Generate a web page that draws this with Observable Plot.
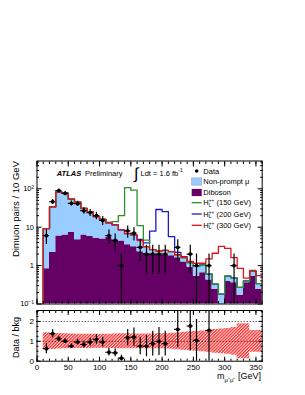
<!DOCTYPE html>
<html>
<head>
<meta charset="utf-8">
<script src="https://cdn.jsdelivr.net/npm/d3@7"></script>
<script src="https://cdn.jsdelivr.net/npm/@observablehq/plot@0.6"></script>
<style>
html,body{margin:0;padding:0;background:#fff;}
#wrap{position:relative;width:305px;height:395px;overflow:hidden;background:#fff;font-family:"Liberation Sans",Arial,Helvetica,sans-serif;}
#main,#ratio,#ann{position:absolute;left:0;}
#main{top:150px;}
#ratio{top:306px;}
#ann{top:0;pointer-events:none;}
</style>
</head>
<body>
<div id="wrap"><div id="main"></div><div id="ratio"></div><svg id="ann" width="305" height="395"></svg></div>
<script>
// ---------- data ----------
const binLow = [10,20,30,40,50,60,70,80,90,100,110,120,130,140,150,160,170,180,190,200,210,220,230,240,250,260,270,280,290,300,310,320,330,340,350];
const binWidth = 10;
const nonPrompt = [8.4,31.8,76,71,46.6,40.3,24.7,19.8,13.9,11.1,7.5,6.8,4.1,3.3,3.2,2.2,1.0,0.6,0.4,0.6,0.5,0.3,0.35,0.3,0.42,0.4,0.18,0.09,0.09,0.14,0.12,0.1,0.04,0.19,0.1];
const diboson   = [0.83,2.2,5.9,6.3,7.4,4.7,6.3,5.7,5.1,4.9,5.5,4.7,4.4,3.5,3.1,2.3,2.1,2.0,2.0,1.9,1.8,1.6,1.25,0.9,0.53,0.65,0.42,0.24,0.09,0.39,0.36,0.17,0.36,0.53,0.24];
const dataCounts = [6,46,90,76,42,41,27,24,20,15,6,4.5,1,8,7,3,2,2,2,2,null,3,null,2,1,null,1,null,null,null,1,null,null,null,null];
const sig150 = [0,0,0,0,0,0,0,0,0,0.3,0.6,2.4,11.5,101,86,6.5,1.5,0,0,0,0,0,0,0,0,0,0,0,0,0,0,0,0,0,0];
const sig200 = [0,0,0,0,0,0,0,0,0,0,0,0,0,0,0,0.3,0.8,5.3,26.5,23,3.4,0.3,0.1,0,0,0,0,0,0,0,0,0,0,0,0];
const sig300 = [0,0,0,0,0,0,0,0,0,0,0,0,0,0,0,0,0,0,0,0,0,0.02,0.05,0.08,0.2,0.1,0.9,1.77,2.97,2.27,1.14,0.58,0.07,0.03,0.21];
const ratioVals = [0.63,1.38,1.13,1.01,0.76,0.96,0.84,0.96,1.10,0.96,0.45,0.42,0.15,1.18,1.21,0.76,0.76,0.88,0.99,0.88,null,1.60,null,1.77,1.05,null,1.55,null,null,null,null,null,null,null,null];
const bandHalf = [0.43,0.41,0.39,0.38,0.37,0.36,0.36,0.36,0.35,0.35,0.36,0.37,0.38,0.38,0.37,0.37,0.37,0.37,0.38,0.38,0.40,0.42,0.45,0.48,0.50,0.52,0.55,0.60,0.62,0.65,0.70,0.88,0.88,0.55,0.55];

const xMajor = [0,50,100,150,200,250,300,350];
const yMajorMain = [0.1,1,10,100];
const yLabelsMain = ["10\u207B\u00B9","1","10","10\u00B2"];
const ratioMajor = [0,1,2];
const ratioLabels = ["0","1","2"];
const ratioRefLines = [1,2];

const legendLabels = ["Data","Non-prompt \u03BC","Diboson","(150 GeV)","(200 GeV)","(300 GeV)"];
const yTitleMain = "Dimuon pairs / 10 GeV";
const yTitleRatio = "Data / bkg";

// ---------- style ----------
const FONT = "'Liberation Sans', Arial, Helvetica, sans-serif";
const cPurple = "#650065", cBlue = "#99ccff", cBlueEdge = "#8c9ee0";
const cGreen = "#2f8f2f", cSig200 = "#1a1ac8", cRed = "#dd1515";
const yFloor = 0.1, yCeil = 530;

// ---------- derived rows ----------
const bins = binLow.map((lo,i)=>({lo, hi:lo+binWidth, mid:lo+binWidth/2,
  dib:diboson[i], bkg:diboson[i]+nonPrompt[i], data:dataCounts[i], ratio:ratioVals[i], band:bandHalf[i],
  s150:diboson[i]+nonPrompt[i]+sig150[i], s200:diboson[i]+nonPrompt[i]+sig200[i], s300:diboson[i]+nonPrompt[i]+sig300[i]}));
const stepRows = bins.flatMap(b=>[{...b, x:b.lo},{...b, x:b.hi}]);
function outline(key){
  const first = bins[0], last = bins[bins.length-1];
  return [{x:first.lo, y:yFloor}, ...bins.flatMap(b=>[{x:b.lo,y:b[key]},{x:b.hi,y:b[key]}]), {x:last.hi, y:yFloor}];
}
const dataRows = bins.filter(b=>b.data!=null);
const ratioRows = bins.filter(b=>b.ratio!=null);

const yMinorMain = yMajorMain.flatMap(d=>d3.range(2,10).map(k=>+(k*d).toPrecision(3))).filter(v=>v<=yCeil);
const xMinor = d3.range(0,361,10);
const ratioMinor = d3.range(0,2.56,0.25);
const yLabelMap = new Map(yMajorMain.map((d,i)=>[d,yLabelsMain[i]]));
const ratioLabelMap = new Map(ratioMajor.map((d,i)=>[d,ratioLabels[i]]));
const blank = ()=>"";

function inwardX(ticks, len){
  return [
    Plot.axisX({anchor:"bottom", ticks, tickSize:len, dy:-len, tickFormat:blank, label:null}),
    Plot.axisX({anchor:"top", ticks, tickSize:len, dy:len, tickFormat:blank, label:null})
  ];
}
function inwardY(ticks, len){
  return [
    Plot.axisY({anchor:"left", ticks, tickSize:len, dx:len, tickFormat:blank, label:null}),
    Plot.axisY({anchor:"right", ticks, tickSize:len, dx:-len, tickFormat:blank, label:null})
  ];
}

// ---------- main panel ----------
const main = Plot.plot({
  width:305, height:156,
  marginLeft:36.5, marginRight:43.3, marginTop:10.5, marginBottom:2.5,
  x:{domain:[0,360]},
  y:{type:"log", domain:[yFloor,yCeil]},
  style:{fontFamily:FONT, fontSize:"7.5px", color:"black", background:"transparent", overflow:"visible"},
  marks:[
    Plot.areaY(stepRows, {x:"x", y1:yFloor, y2:"dib", fill:cPurple, clip:true}),
    Plot.areaY(stepRows, {x:"x", y1:"dib", y2:"bkg", fill:cBlue, clip:true}),
    Plot.line(outline("bkg"), {x:"x", y:"y", stroke:cBlueEdge, strokeWidth:0.9, clip:true}),
    Plot.line(outline("s200"), {x:"x", y:"y", stroke:cSig200, strokeWidth:1.3, clip:true}),
    Plot.line(outline("s150"), {x:"x", y:"y", stroke:cGreen, strokeWidth:1.3, clip:true}),
    Plot.line(outline("s300"), {x:"x", y:"y", stroke:cRed, strokeWidth:1.3, clip:true}),
    Plot.ruleX(dataRows, {x:"mid", y1:d=>Math.max(d.data-Math.sqrt(d.data),1e-3), y2:d=>d.data+Math.sqrt(d.data), stroke:"black", strokeWidth:1.2, clip:true}),
    Plot.ruleY(dataRows, {y:"data", x1:"lo", x2:"hi", stroke:"black", strokeWidth:1.2, clip:true}),
    Plot.dot(dataRows, {x:"mid", y:"data", r:1.9, fill:"black", stroke:null}),
    Plot.frame({stroke:"black", strokeWidth:1}),
    ...inwardX(xMinor, 2.5), ...inwardX(xMajor, 5),
    ...inwardY(yMinorMain, 2.5), ...inwardY(yMajorMain, 5),
    Plot.axisY({anchor:"left", ticks:yMajorMain, tickSize:0, tickPadding:3, tickFormat:d=>yLabelMap.get(d), label:null, fontSize:7.5})
  ]
});
document.getElementById("main").appendChild(main);

// ---------- ratio panel ----------
const ratio = Plot.plot({
  width:305, height:89,
  marginLeft:36.5, marginRight:43.3, marginTop:4, marginBottom:34.3,
  x:{domain:[0,360]},
  y:{domain:[0,2.55]},
  style:{fontFamily:FONT, fontSize:"8px", color:"black", background:"transparent", overflow:"visible"},
  marks:[
    Plot.areaY(stepRows, {x:"x", y1:d=>1-d.band, y2:d=>1+d.band, fill:"url(#hatch)", clip:true}),
    Plot.ruleY(ratioRefLines, {stroke:"black", strokeWidth:0.6, strokeDasharray:"1.5,1.5"}),
    Plot.ruleX(ratioRows, {x:"mid", y1:d=>Math.max(d.ratio-d.ratio/Math.sqrt(d.data),0), y2:d=>d.ratio+d.ratio/Math.sqrt(d.data), stroke:"black", strokeWidth:1.2, clip:true}),
    Plot.ruleY(ratioRows, {y:"ratio", x1:"lo", x2:"hi", stroke:"black", strokeWidth:1.2, clip:true}),
    Plot.dot(ratioRows, {x:"mid", y:"ratio", r:1.9, fill:"black", stroke:null}),
    Plot.frame({stroke:"black", strokeWidth:1}),
    ...inwardX(xMinor, 2), ...inwardX(xMajor, 4),
    ...inwardY(ratioMinor, 2), ...inwardY(ratioMajor, 4),
    Plot.axisX({anchor:"bottom", ticks:xMajor, tickSize:0, tickPadding:3, label:null, fontSize:8}),
    Plot.axisY({anchor:"left", ticks:ratioMajor, tickSize:0, tickPadding:3, tickFormat:d=>ratioLabelMap.get(d), label:null, fontSize:8})
  ]
});
const defs = d3.select(ratio).insert("defs", ":first-child");
const pat = defs.append("pattern").attr("id","hatch").attr("patternUnits","userSpaceOnUse")
  .attr("width",2.2).attr("height",2.2).attr("patternTransform","rotate(45)");
pat.append("rect").attr("width",2.2).attr("height",2.2).attr("fill","#ffdede");
pat.append("line").attr("x1",0.6).attr("y1",0).attr("x2",0.6).attr("y2",2.2).attr("stroke","#ff2a2a").attr("stroke-width",1.2);
document.getElementById("ratio").appendChild(ratio);

// ---------- annotations ----------
const ann = d3.select("#ann").style("font-family", FONT);
ann.append("text").attr("transform","translate(18.5,161) rotate(-90)").attr("text-anchor","end").attr("font-size",9.5).text(yTitleMain);
ann.append("text").attr("transform","translate(18.5,337.5) rotate(-90)").attr("text-anchor","middle").attr("font-size",9).text(yTitleRatio);
const xt = ann.append("text").attr("x",261).attr("y",379).attr("text-anchor","end").attr("font-size",9);
xt.append("tspan").text("m");
xt.append("tspan").attr("font-size",6).attr("dy",2.5).text("\u03BC\u207A\u03BC\u207A");
xt.append("tspan").attr("dy",-2.5).text(" [GeV]");

ann.append("text").attr("x",56.7).attr("y",176).attr("font-size",7.5).attr("font-weight","bold").attr("font-style","italic").text("ATLAS");
ann.append("text").attr("x",85).attr("y",176).attr("font-size",7.5).text("Preliminary");
ann.append("text").attr("x",134).attr("y",179).attr("font-size",16).text("\u222B");
ann.append("text").attr("x",140.5).attr("y",176).attr("font-size",7.5).text("Ldt = 1.6 fb");
ann.append("text").attr("x",178.3).attr("y",172.3).attr("font-size",5).text("-1");

// legend
const legBoxX = 191.7, legBoxW = 10, legTextX = 203.3;
const legY = [171,181.5,192.5,202.7,214,225.3];
ann.append("circle").attr("cx",legBoxX+legBoxW/2).attr("cy",legY[0]).attr("r",1.8).attr("fill","black");
ann.append("rect").attr("x",legBoxX).attr("y",legY[1]-3.6).attr("width",legBoxW).attr("height",7.2).attr("fill",cBlue).attr("stroke",cBlueEdge).attr("stroke-width",0.6);
ann.append("rect").attr("x",legBoxX).attr("y",legY[2]-3.6).attr("width",legBoxW).attr("height",7.2).attr("fill",cPurple);
[cGreen,cSig200,cRed].forEach((c,i)=>{
  ann.append("line").attr("x1",legBoxX).attr("x2",legBoxX+legBoxW).attr("y1",legY[3+i]).attr("y2",legY[3+i]).attr("stroke",c).attr("stroke-width",1.3);
});
legendLabels.forEach((t,i)=>{
  const y = legY[i]+2.7;
  if(i<3){
    ann.append("text").attr("x",legTextX).attr("y",y).attr("font-size",7.5).text(t);
  } else {
    ann.append("text").attr("x",legTextX).attr("y",y).attr("font-size",7.5).text("H");
    ann.append("text").attr("x",legTextX+5.5).attr("y",y-3.2).attr("font-size",4.6).text("++");
    ann.append("text").attr("x",legTextX+5.5).attr("y",y+1.4).attr("font-size",4.6).text("L");
    ann.append("text").attr("x",legTextX+13.2).attr("y",y).attr("font-size",7.5).text(t);
  }
});
</script>
</body>
</html>
